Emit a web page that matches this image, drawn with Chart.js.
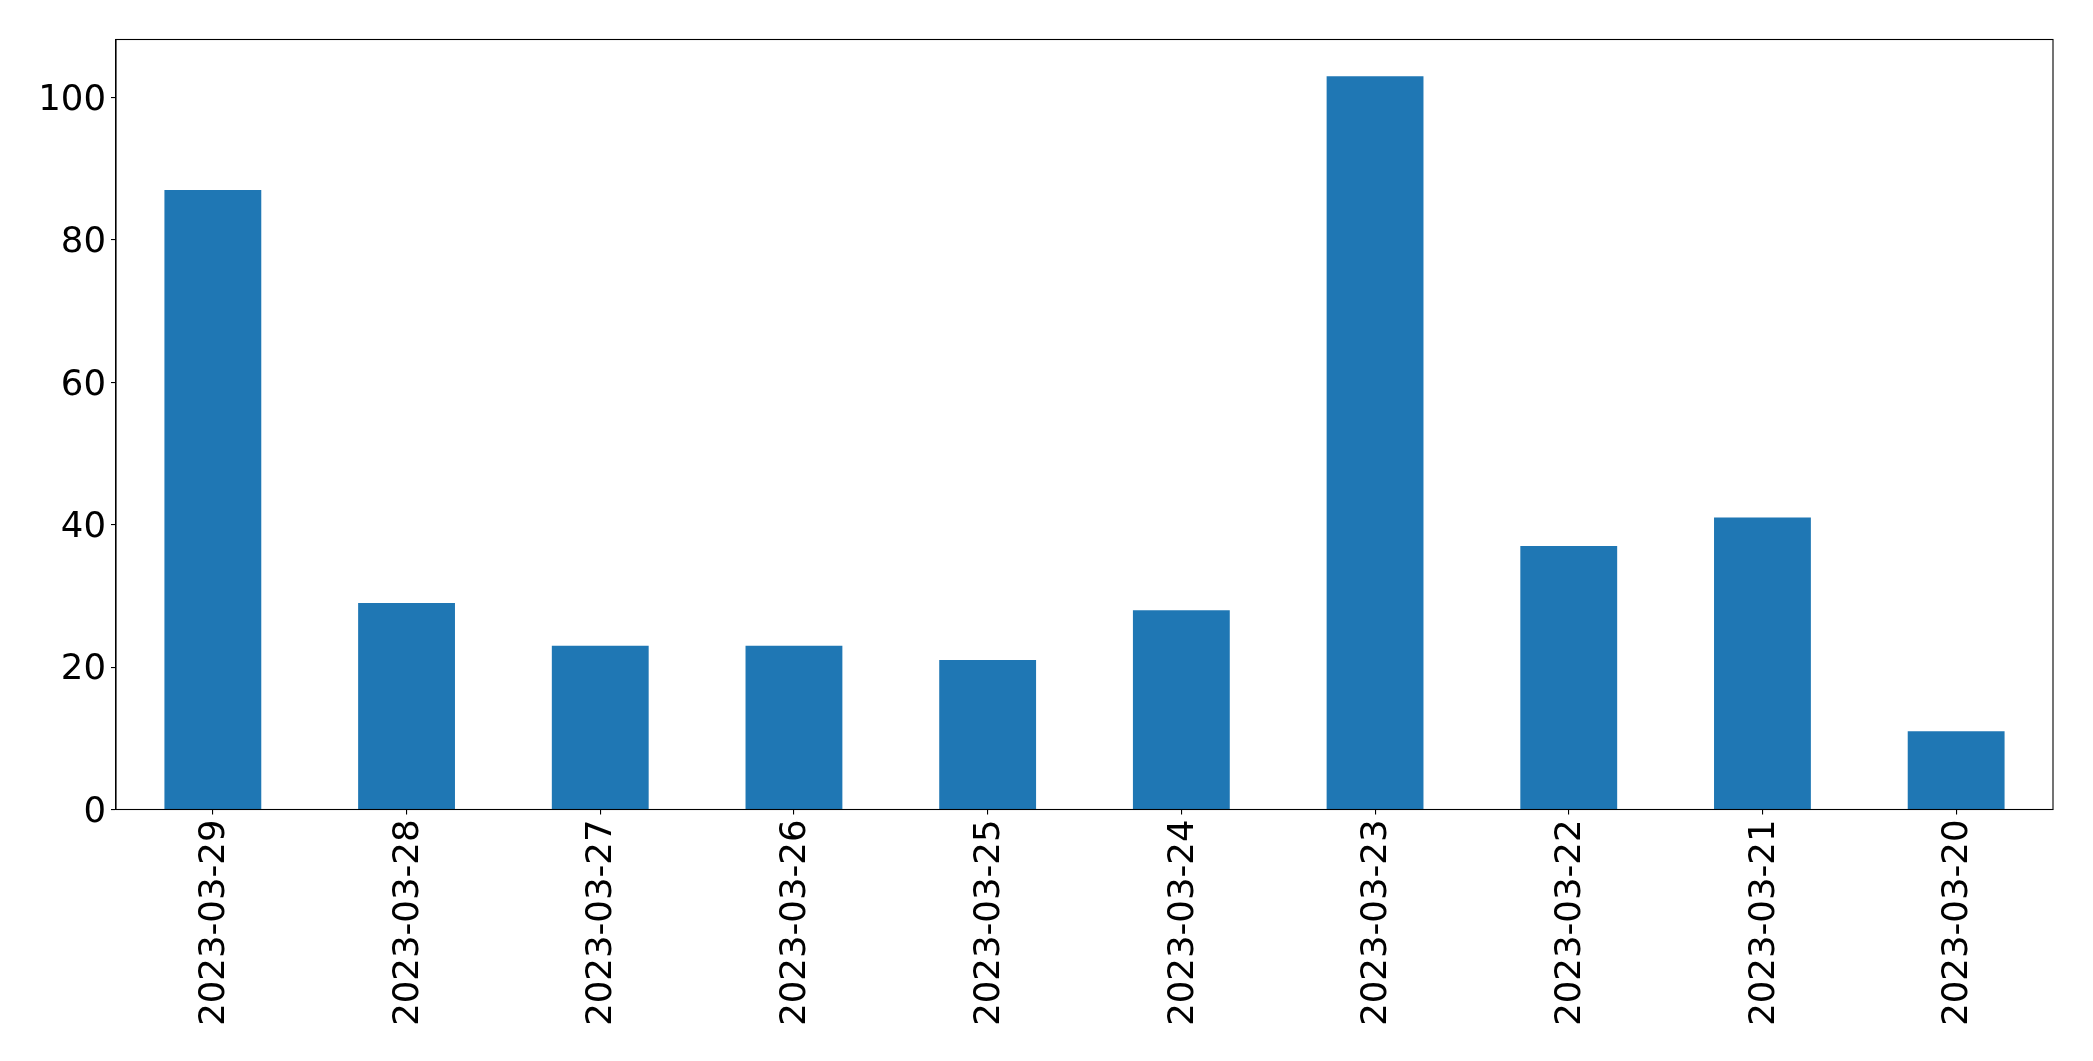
<!DOCTYPE html>
<html>
<head>
<meta charset="utf-8">
<script src="https://cdn.jsdelivr.net/npm/chart.js@4.4.0/dist/chart.umd.min.js"></script>
<style>
html,body{margin:0;padding:0;background:#fff;}
#wrap{width:2093px;height:1061px;}
</style>
</head>
<body>
<div id="wrap"><canvas id="c" width="2093" height="1061"></canvas></div>
<script>
const categories = ["2023-03-29","2023-03-28","2023-03-27","2023-03-26","2023-03-25","2023-03-24","2023-03-23","2023-03-22","2023-03-21","2023-03-20"];
const values = [87, 29, 23, 23, 21, 28, 103, 37, 41, 11];
const yTicks = [0, 20, 40, 60, 80, 100];

const frame = {
  id: 'frame',
  afterDraw(chart) {
    const a = chart.chartArea, ctx = chart.ctx;
    ctx.save();
    ctx.strokeStyle = '#000';
    ctx.lineWidth = 1.1;
    ctx.strokeRect(a.left, a.top, a.right - a.left, a.bottom - a.top);
    ctx.restore();
  }
};

const font = { family: 'DejaVu Sans', size: 35.5 };

new Chart(document.getElementById('c'), {
  type: 'bar',
  data: {
    labels: categories,
    datasets: [{
      data: values,
      backgroundColor: '#1f77b4',
      borderWidth: 0,
      barPercentage: 0.5,
      categoryPercentage: 1.0
    }]
  },
  options: {
    responsive: false,
    devicePixelRatio: 1,
    animation: false,
    layout: { padding: { left: 0, right: 40, top: 39.5, bottom: 0 } },
    plugins: { legend: { display: false }, tooltip: { enabled: false } },
    scales: {
      x: {
        offset: true,
        grid: { display: true, offset: false, drawOnChartArea: false, drawTicks: true, tickLength: 5, color: '#000', lineWidth: 1.1 },
        border: { display: true, color: '#000', width: 1.1 },
        ticks: { color: '#000', font: font, minRotation: 90, maxRotation: 90, padding: 5, autoSkip: false, labelOffset: 2 },
        afterFit(scale) { scale.height = 1061 - 809.5; }
      },
      y: {
        min: 0,
        max: Math.max(...values) * 1.05,
        grid: { display: true, drawOnChartArea: false, drawTicks: true, tickLength: 5, color: '#000', lineWidth: 1.1 },
        border: { display: true, color: '#000', width: 1.1 },
        ticks: { color: '#000', font: font, padding: 5, stepSize: 20, labelOffset: 3 },
        afterBuildTicks(scale) { scale.ticks = yTicks.map(v => ({ value: v })); },
        afterFit(scale) { scale.width = 116; }
      }
    }
  },
  plugins: [frame]
});
</script>
</body>
</html>
